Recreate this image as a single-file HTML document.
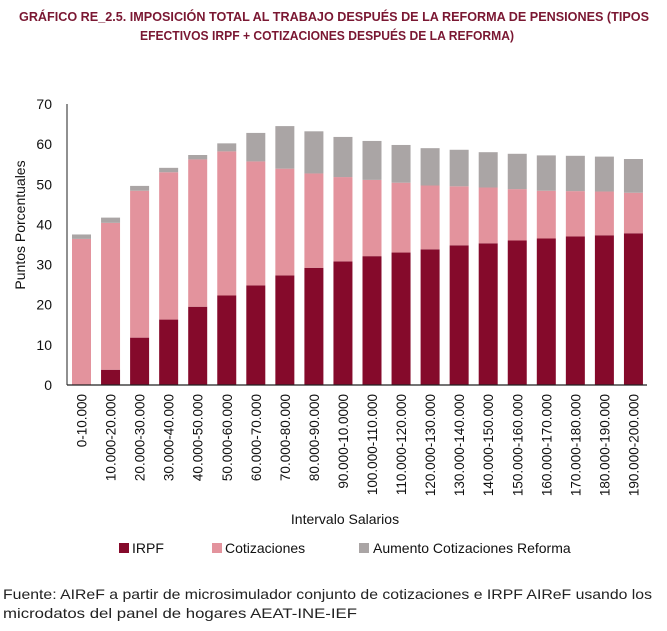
<!DOCTYPE html>
<html><head><meta charset="utf-8"><style>
body{margin:0;background:#fff;}
svg{display:block;font-family:"Liberation Sans",sans-serif;}
</style></head><body>
<svg id="chart" width="667" height="631" viewBox="0 0 667 631">
<text x="334" y="21" text-anchor="middle" font-size="12.5" font-weight="bold" fill="#7a1732" textLength="630" lengthAdjust="spacingAndGlyphs">GRÁFICO RE_2.5.  IMPOSICIÓN TOTAL AL TRABAJO DESPUÉS DE LA REFORMA DE PENSIONES (TIPOS</text>
<text x="327" y="40" text-anchor="middle" font-size="12.5" font-weight="bold" fill="#7a1732" textLength="374" lengthAdjust="spacingAndGlyphs">EFECTIVOS IRPF + COTIZACIONES DESPUÉS DE LA REFORMA)</text>
<g id="yticks"></g>
<g id="bars"></g>
<g id="xlabels"></g>
<line x1="67" y1="104" x2="67" y2="385" stroke="#222" stroke-width="1"/>
<line x1="67" y1="385" x2="647" y2="385" stroke="#222" stroke-width="1.2"/>
<text transform="translate(25,225) rotate(-90)" text-anchor="middle" font-size="14" fill="#111">Puntos Porcentuales</text>
<text x="345" y="524" text-anchor="middle" font-size="14" fill="#111">Intervalo Salarios</text>
<g>
<rect x="119" y="543" width="10" height="10" fill="#850a2b"/>
<text x="132" y="553" font-size="14" fill="#111">IRPF</text>
<rect x="212" y="543" width="10" height="10" fill="#e3939d"/>
<text x="225" y="553" font-size="14" fill="#111">Cotizaciones</text>
<rect x="359" y="543" width="10" height="10" fill="#aaa5a5"/>
<text x="373" y="553" font-size="14" fill="#111">Aumento Cotizaciones Reforma</text>
</g>
<text x="3" y="599" font-size="14" fill="#222" textLength="649" lengthAdjust="spacingAndGlyphs">Fuente: AIReF a partir de microsimulador conjunto de cotizaciones e IRPF AIReF usando los</text>
<text x="3" y="618" font-size="14" fill="#222" textLength="354" lengthAdjust="spacingAndGlyphs">microdatos del panel de hogares AEAT-INE-IEF</text>
</svg>
<script>
const categories=["0-10.000","10.000-20.000","20.000-30.000","30.000-40.000","40.000-50.000","50.000-60.000","60.000-70.000","70.000-80.000","80.000-90.000","90.000-10.0000","100.000-110.000","110.000-120.000","120.000-130.000","130.000-140.000","140.000-150.000","150.000-160.000","160.000-170.000","170.000-180.000","180.000-190.000","190.000-200.000"];
const irpf=[0,3.8,11.8,16.3,19.5,22.3,24.8,27.3,29.2,30.8,32.1,33,33.8,34.8,35.3,36,36.5,37,37.3,37.8];
const cotizaciones=[36.4,36.6,36.6,36.7,36.7,35.9,30.9,26.6,23.5,21,19,17.4,15.9,14.7,13.9,12.8,11.9,11.3,10.9,10.1];
const aumento=[1.1,1.3,1.2,1.1,1.1,2,7.1,10.6,10.5,10,9.7,9.4,9.3,9.1,8.8,8.8,8.8,8.8,8.7,8.4];
const yTicks=[0,10,20,30,40,50,60,70];
const NS="http://www.w3.org/2000/svg";
const y0=385,pxPer=4.014,x0=81.5,step=29.05,bw=19;
function yScale(v){return y0-v*pxPer;}
function xScale(i){return x0+i*step;}
const gy=document.getElementById('yticks');
yTicks.forEach(t=>{
 const tx=document.createElementNS(NS,'text');
 tx.setAttribute('x',52);tx.setAttribute('y',yScale(t)+5);
 tx.setAttribute('text-anchor','end');tx.setAttribute('font-size','14');tx.setAttribute('fill','#111');
 tx.textContent=t;
 
 
 gy.appendChild(tx);
});
const gb=document.getElementById('bars');
const series=[[irpf,'#850a2b','irpf'],[cotizaciones,'#e3939d','cotizaciones'],[aumento,'#aaa5a5','aumento']];
categories.forEach((c,i)=>{
 let base=0;
 series.forEach(([arr,col,nm])=>{
  const v=arr[i];
  const r=document.createElementNS(NS,'rect');
  r.setAttribute('x',xScale(i)-bw/2);r.setAttribute('width',bw);
  r.setAttribute('y',yScale(base+v));r.setAttribute('height',Math.max(0,yScale(base)-yScale(base+v)));
  r.setAttribute('fill',col);
  
  
  gb.appendChild(r);
  base+=v;
 });
 const tx=document.createElementNS(NS,'text');
 tx.setAttribute('transform','translate('+(xScale(i)+5)+',394) rotate(-90)');
 tx.setAttribute('text-anchor','end');tx.setAttribute('font-size','13.5');tx.setAttribute('fill','#111');
 tx.textContent=c;
 
 
 document.getElementById('xlabels').appendChild(tx);
});
</script>
</body></html>
